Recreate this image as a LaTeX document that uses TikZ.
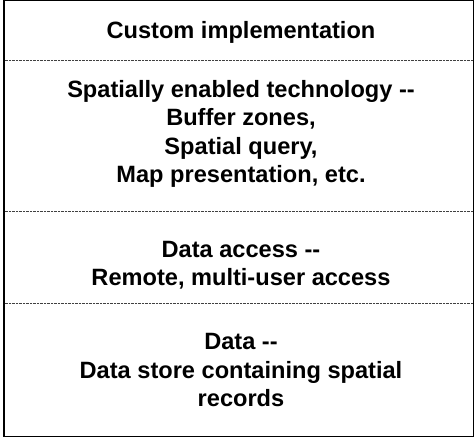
\documentclass[tikz,border=0pt]{standalone}
\usepackage{fontspec}
\setmainfont{Liberation Sans}
\usetikzlibrary{positioning}

\begin{document}
\begin{tikzpicture}[x=1pt, y=-1pt,
  font=\bfseries\fontsize{23.6}{28.5}\selectfont,
  layer/.style={align=center, inner sep=0pt},
  frame/.style={draw=black, line width=1.3pt},
  divider/.style={draw=black!75, line width=0.6pt, dash pattern=on 0.9pt off 0.5pt}
]
\useasboundingbox (0,0) rectangle (476,438);
\draw[frame] (4,0.8) rectangle (473.5,436.5);
\foreach \y in {60,211,303}
  \draw[divider] (4.6,\y) -- (472.9,\y);

\node[layer] (custom) at (241,32) {Custom implementation};
\node[layer] (tech) at (241,134) {Spatially enabled technology -{}-\\Buffer zones,\\Spatial query,\\Map presentation, etc.};
\node[layer] (access) at (241,265) {Data access -{}-\\Remote, multi-user access};
\node[layer] (data) at (241,370) {Data -{}-\\Data store containing spatial\\records};
\end{tikzpicture}
\end{document}
